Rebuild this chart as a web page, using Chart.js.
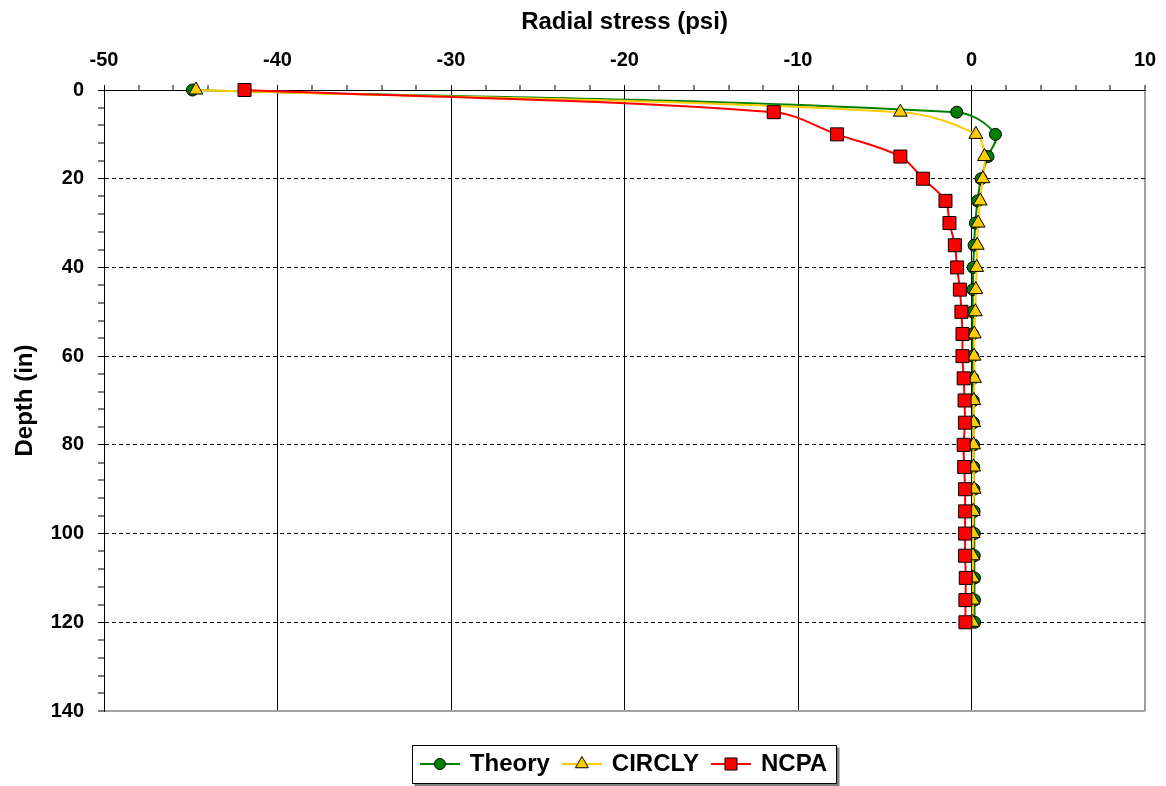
<!DOCTYPE html>
<html>
<head>
<meta charset="utf-8">
<script src="https://cdn.jsdelivr.net/npm/chart.js@4/dist/chart.umd.min.js"></script>
<style>
html, body { margin: 0; padding: 0; background: #fff; overflow: hidden; }
#wrap { width: 1166px; height: 786px; position: relative; }
canvas { display: block; }
</style>
</head>
<body>
<div id="wrap"><canvas id="chart"></canvas></div>
<script>
const depths = [0, 5, 10, 15, 20, 25, 30, 35, 40, 45, 50, 55, 60, 65, 70, 75, 80, 85, 90, 95, 100, 105, 110, 115, 120];
const theory = [-44.9, -0.85, 1.38, 0.95, 0.55, 0.35, 0.22, 0.15, 0.1, 0.08, 0.06, 0.06, 0.07, 0.08, 0.1, 0.11, 0.12, 0.13, 0.14, 0.15, 0.16, 0.16, 0.17, 0.17, 0.18];
const circly = [-44.7, -4.1, 0.25, 0.75, 0.65, 0.5, 0.38, 0.33, 0.3, 0.25, 0.22, 0.16, 0.15, 0.17, 0.13, 0.13, 0.12, 0.12, 0.15, 0.1, 0.1, 0.08, 0.08, 0.08, 0.06];
const ncpa = [-41.9, -11.4, -7.75, -4.1, -2.8, -1.5, -1.27, -0.96, -0.83, -0.67, -0.58, -0.52, -0.52, -0.45, -0.4, -0.38, -0.45, -0.42, -0.37, -0.37, -0.37, -0.37, -0.33, -0.35, -0.35];
const seriesNames = ['Theory', 'CIRCLY', 'NCPA'];
const xTickLabels = [-50, -40, -30, -20, -10, 0, 10];
const yTickLabels = [0, 20, 40, 60, 80, 100, 120, 140];

Chart.defaults.font.family = '"Liberation Sans", Arial, sans-serif';
Chart.defaults.color = '#000';

function toPoints(values) {
    return values.map((v, i) => ({ x: v, y: depths[i] }));
}

function hasLabel(list, v) {
    return list.some(t => Math.abs(t - v) < 1e-6);
}

function makeLegendIcon(color, style, radius) {
    const c = document.createElement('canvas');
    c.width = 40;
    c.height = 20;
    const ctx = c.getContext('2d');
    ctx.strokeStyle = color;
    ctx.lineWidth = 2;
    ctx.beginPath();
    ctx.moveTo(0, 10);
    ctx.lineTo(40, 10);
    ctx.stroke();
    ctx.fillStyle = color;
    ctx.strokeStyle = '#000';
    ctx.lineWidth = 1;
    Chart.helpers.drawPoint(ctx, { pointStyle: style, radius: radius, rotation: 0, borderWidth: 1 }, 20, 10);
    return c;
}

const legendFrame = {
    id: 'legendFrame',
    beforeDraw(chart) {
        const ctx = chart.ctx;
        ctx.save();
        ctx.fillStyle = '#fff';
        ctx.fillRect(0, 0, chart.width, chart.height);
        const boxes = chart.legend && chart.legend.legendHitBoxes;
        if (boxes && boxes.length) {
            const first = boxes[0], last = boxes[boxes.length - 1];
            const left = Math.round(first.left - 10) + 0.5;
            const right = Math.round(last.left + last.width + 9) + 0.5;
            const top = Math.round(first.top - 7) + 0.5;
            const bottom = Math.round(first.top + first.height + 7) + 0.5;
            ctx.fillStyle = '#808080';
            ctx.fillRect(left + 2, top + 2, right - left + 1, bottom - top + 1);
            ctx.fillStyle = '#fff';
            ctx.fillRect(left, top, right - left, bottom - top);
            ctx.strokeStyle = '#000';
            ctx.lineWidth = 1;
            ctx.strokeRect(left, top, right - left, bottom - top);
        }
        ctx.restore();
    }
};

function makeChart(canvas) {
    const styles = [
        { color: '#008000', point: 'circle', radius: 6, order: 3 },
        { color: '#FFCC00', point: 'triangle', radius: 8, order: 2 },
        { color: '#FF0000', point: 'rect', radius: 9.2, order: 1 }
    ];
    const values = [theory, circly, ncpa];
    const icons = styles.map(s => makeLegendIcon(s.color, s.point, s.point === 'rect' ? 8.5 : s.radius - 0.5));

    const datasets = values.map((vals, i) => ({
        label: seriesNames[i],
        data: toPoints(vals),
        borderColor: styles[i].color,
        backgroundColor: styles[i].color,
        borderWidth: 2,
        pointStyle: styles[i].point,
        pointRadius: styles[i].radius,
        pointBackgroundColor: styles[i].color,
        pointBorderColor: '#000',
        pointBorderWidth: 1,
        tension: 0.35,
        clip: false,
        order: styles[i].order
    }));

    return new Chart(canvas.getContext('2d'), {
        type: 'line',
        data: { datasets },
        plugins: [legendFrame],
        options: {
            responsive: true,
            maintainAspectRatio: false,
            animation: false,
            events: [],
            layout: { padding: { left: 0, right: 21, top: 0, bottom: 0 } },
            plugins: {
                tooltip: { enabled: false },
                legend: {
                    position: 'bottom',
                    fullSize: false,
                    title: { display: true, text: '', font: { size: 12 }, padding: 6.3 },
                    labels: {
                        usePointStyle: true,
                        pointStyleWidth: 36,
                        padding: 14,
                        color: '#000',
                        font: { size: 24, weight: 'bold' },
                        generateLabels: chart => chart.data.datasets.map((ds, i) => ({
                            text: ds.label,
                            pointStyle: icons[i],
                            fillStyle: ds.borderColor,
                            strokeStyle: ds.borderColor,
                            lineWidth: 0,
                            hidden: false,
                            datasetIndex: i,
                            fontColor: '#000'
                        }))
                    }
                }
            },
            scales: {
                x: {
                    type: 'linear',
                    position: 'top',
                    min: xTickLabels[0],
                    max: xTickLabels[xTickLabels.length - 1],
                    afterFit: s => {
                        s.height = 90;
                        s.paddingLeft = 0;
                        s.paddingRight = 0;
                    },
                    title: {
                        display: true,
                        text: 'Radial stress (psi)',
                        font: { size: 24, weight: 'bold' },
                        padding: { top: 8, bottom: 0 }
                    },
                    ticks: {
                        stepSize: 2,
                        autoSkip: false,
                        maxRotation: 0,
                        padding: 13,
                        font: { size: 20, weight: 'bold' },
                        callback: v => hasLabel(xTickLabels, v) ? String(v) : ''
                    },
                    grid: {
                        color: c => {
                            const v = c.tick ? c.tick.value : null;
                            if (v === null || v === xTickLabels[0]) return 'rgba(0,0,0,0)';
                            if (v === xTickLabels[xTickLabels.length - 1]) return '#a0a0a0';
                            return '#000';
                        },
                        lineWidth: c => {
                            const v = c.tick ? c.tick.value : null;
                            if (v === null || !hasLabel(xTickLabels, v)) return 0;
                            return v === xTickLabels[xTickLabels.length - 1] ? 2 : 1;
                        },
                        tickColor: '#000',
                        tickWidth: 1,
                        tickLength: 5
                    },
                    border: { display: true, color: '#000', width: 1 }
                },
                y: {
                    type: 'linear',
                    reverse: true,
                    min: yTickLabels[0],
                    max: yTickLabels[yTickLabels.length - 1],
                    afterFit: s => { s.width = 104; },
                    title: {
                        display: true,
                        text: 'Depth (in)',
                        font: { size: 24, weight: 'bold' },
                        padding: { top: 11, bottom: 0 }
                    },
                    ticks: {
                        stepSize: 4,
                        autoSkip: false,
                        padding: 14,
                        font: { size: 20, weight: 'bold' },
                        callback: v => hasLabel(yTickLabels, v) ? String(v) : ''
                    },
                    grid: {
                        color: c => {
                            const v = c.tick ? c.tick.value : null;
                            if (v === null || v === yTickLabels[0]) return 'rgba(0,0,0,0)';
                            if (v === yTickLabels[yTickLabels.length - 1]) return '#a0a0a0';
                            return '#000';
                        },
                        lineWidth: c => {
                            const v = c.tick ? c.tick.value : null;
                            if (v === null || !hasLabel(yTickLabels, v)) return 0;
                            return v === yTickLabels[yTickLabels.length - 1] ? 2 : 1;
                        },
                        tickColor: '#000',
                        tickWidth: 1,
                        tickLength: 6
                    },
                    border: {
                        display: true,
                        color: '#000',
                        width: 1,
                        dash: c => (c.tick && c.tick.value > yTickLabels[0] && c.tick.value < yTickLabels[yTickLabels.length - 1]) ? [4, 3] : []
                    }
                }
            }
        }
    });
}

makeChart(document.getElementById('chart'));
</script>
</body>
</html>
